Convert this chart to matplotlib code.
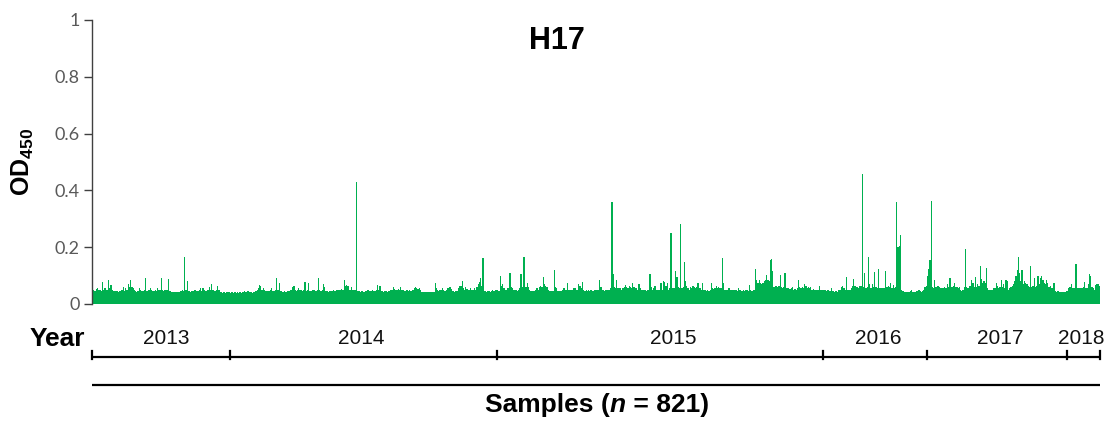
import matplotlib
matplotlib.use("Agg")
import matplotlib.pyplot as plt
import numpy as np
from matplotlib.transforms import blended_transform_factory
from matplotlib.offsetbox import TextArea, HPacker, AnnotationBbox

# ---------------- data ----------------
od450 = [
    0.050, 0.048, 0.045, 0.052, 0.055, 0.048, 0.050, 0.045, 0.077, 0.050, 0.055, 0.048, 0.050, 0.085, 0.055, 0.067, 0.048, 0.045, 0.045, 0.047,
    0.045, 0.044, 0.046, 0.045, 0.048, 0.059, 0.046, 0.055, 0.050, 0.070, 0.060, 0.085, 0.060, 0.055, 0.050, 0.046, 0.044, 0.045, 0.055, 0.048,
    0.045, 0.046, 0.048, 0.090, 0.046, 0.045, 0.048, 0.058, 0.050, 0.046, 0.045, 0.048, 0.046, 0.055, 0.048, 0.050, 0.090, 0.048, 0.046, 0.050,
    0.048, 0.050, 0.088, 0.045, 0.044, 0.043, 0.043, 0.044, 0.043, 0.043, 0.044, 0.043, 0.045, 0.050, 0.045, 0.167, 0.048, 0.080, 0.046, 0.045,
    0.044, 0.045, 0.046, 0.050, 0.048, 0.046, 0.045, 0.048, 0.055, 0.046, 0.055, 0.048, 0.045, 0.046, 0.048, 0.060, 0.048, 0.070, 0.050, 0.046,
    0.045, 0.048, 0.065, 0.048, 0.042, 0.041, 0.040, 0.041, 0.040, 0.041, 0.042, 0.041, 0.040, 0.041, 0.041, 0.040, 0.041, 0.040, 0.041, 0.040,
    0.041, 0.040, 0.041, 0.042, 0.045, 0.044, 0.046, 0.045, 0.043, 0.041, 0.040, 0.041, 0.042, 0.045, 0.050, 0.055, 0.067, 0.065, 0.050, 0.055,
    0.048, 0.046, 0.045, 0.047, 0.046, 0.048, 0.055, 0.046, 0.045, 0.048, 0.090, 0.048, 0.075, 0.046, 0.045, 0.044, 0.045, 0.043, 0.044, 0.046,
    0.045, 0.048, 0.050, 0.060, 0.062, 0.050, 0.046, 0.048, 0.057, 0.050, 0.048, 0.046, 0.048, 0.078, 0.046, 0.048, 0.075, 0.046, 0.045, 0.048,
    0.050, 0.048, 0.046, 0.050, 0.093, 0.050, 0.046, 0.050, 0.072, 0.060, 0.046, 0.045, 0.044, 0.045, 0.046, 0.045, 0.050, 0.046, 0.045, 0.048,
    0.050, 0.048, 0.050, 0.052, 0.050, 0.085, 0.065, 0.066, 0.063, 0.050, 0.048, 0.060, 0.050, 0.048, 0.048, 0.428, 0.046, 0.045, 0.044, 0.045,
    0.045, 0.044, 0.046, 0.045, 0.048, 0.050, 0.046, 0.045, 0.050, 0.046, 0.045, 0.048, 0.068, 0.050, 0.065, 0.046, 0.045, 0.044, 0.046, 0.045,
    0.044, 0.046, 0.045, 0.048, 0.050, 0.060, 0.052, 0.050, 0.048, 0.052, 0.050, 0.060, 0.050, 0.048, 0.046, 0.045, 0.048, 0.046, 0.050, 0.046,
    0.045, 0.048, 0.055, 0.060, 0.055, 0.052, 0.055, 0.048, 0.044, 0.043, 0.043, 0.042, 0.043, 0.043, 0.042, 0.043, 0.043, 0.042, 0.043, 0.075,
    0.055, 0.048, 0.046, 0.050, 0.048, 0.055, 0.048, 0.046, 0.050, 0.055, 0.058, 0.060, 0.052, 0.046, 0.045, 0.044, 0.045, 0.046, 0.055, 0.063,
    0.065, 0.080, 0.055, 0.048, 0.060, 0.052, 0.050, 0.048, 0.055, 0.050, 0.048, 0.055, 0.050, 0.060, 0.070, 0.078, 0.090, 0.065, 0.163, 0.046,
    0.045, 0.044, 0.045, 0.046, 0.044, 0.045, 0.050, 0.046, 0.050, 0.048, 0.050, 0.046, 0.097, 0.065, 0.070, 0.055, 0.050, 0.048, 0.055, 0.055,
    0.110, 0.060, 0.055, 0.050, 0.048, 0.050, 0.046, 0.048, 0.055, 0.104, 0.060, 0.165, 0.165, 0.060, 0.075, 0.060, 0.050, 0.046, 0.045, 0.046,
    0.045, 0.048, 0.055, 0.050, 0.060, 0.062, 0.060, 0.094, 0.070, 0.065, 0.060, 0.050, 0.046, 0.045, 0.046, 0.045, 0.120, 0.060, 0.055, 0.046,
    0.045, 0.046, 0.045, 0.048, 0.055, 0.048, 0.050, 0.075, 0.050, 0.048, 0.050, 0.048, 0.058, 0.055, 0.048, 0.050, 0.070, 0.065, 0.055, 0.078,
    0.048, 0.046, 0.048, 0.047, 0.048, 0.046, 0.048, 0.046, 0.045, 0.050, 0.050, 0.048, 0.050, 0.085, 0.060, 0.048, 0.050, 0.046, 0.048, 0.050,
    0.048, 0.050, 0.055, 0.360, 0.105, 0.060, 0.058, 0.085, 0.055, 0.058, 0.055, 0.050, 0.055, 0.060, 0.068, 0.060, 0.058, 0.062, 0.060, 0.058,
    0.075, 0.060, 0.055, 0.058, 0.050, 0.072, 0.055, 0.050, 0.048, 0.050, 0.048, 0.046, 0.048, 0.050, 0.104, 0.060, 0.050, 0.055, 0.065, 0.050,
    0.048, 0.050, 0.048, 0.075, 0.050, 0.080, 0.078, 0.065, 0.075, 0.050, 0.055, 0.251, 0.055, 0.058, 0.055, 0.115, 0.095, 0.060, 0.055, 0.280,
    0.058, 0.060, 0.147, 0.080, 0.065, 0.055, 0.050, 0.060, 0.058, 0.062, 0.060, 0.058, 0.060, 0.075, 0.058, 0.055, 0.050, 0.075, 0.050, 0.048,
    0.046, 0.048, 0.046, 0.050, 0.073, 0.055, 0.052, 0.055, 0.065, 0.055, 0.060, 0.058, 0.055, 0.163, 0.075, 0.050, 0.048, 0.050, 0.055, 0.058,
    0.050, 0.048, 0.050, 0.048, 0.050, 0.046, 0.058, 0.050, 0.048, 0.046, 0.048, 0.047, 0.048, 0.050, 0.046, 0.066, 0.048, 0.045, 0.048, 0.050,
    0.124, 0.085, 0.075, 0.085, 0.075, 0.070, 0.075, 0.080, 0.085, 0.102, 0.085, 0.080, 0.155, 0.160, 0.115, 0.060, 0.065, 0.065, 0.060, 0.065,
    0.103, 0.060, 0.055, 0.060, 0.110, 0.055, 0.058, 0.055, 0.052, 0.055, 0.060, 0.050, 0.052, 0.050, 0.055, 0.085, 0.060, 0.058, 0.060, 0.055,
    0.072, 0.065, 0.058, 0.060, 0.055, 0.060, 0.050, 0.052, 0.050, 0.048, 0.050, 0.048, 0.065, 0.050, 0.048, 0.050, 0.048, 0.050, 0.046, 0.048,
    0.045, 0.046, 0.055, 0.045, 0.044, 0.046, 0.045, 0.044, 0.048, 0.050, 0.060, 0.065, 0.055, 0.050, 0.095, 0.050, 0.048, 0.050, 0.055, 0.065,
    0.088, 0.065, 0.060, 0.060, 0.058, 0.062, 0.065, 0.457, 0.060, 0.110, 0.055, 0.060, 0.165, 0.070, 0.058, 0.070, 0.060, 0.112, 0.060, 0.058,
    0.125, 0.058, 0.055, 0.055, 0.058, 0.055, 0.115, 0.060, 0.065, 0.060, 0.075, 0.055, 0.068, 0.055, 0.060, 0.360, 0.200, 0.205, 0.243, 0.050,
    0.045, 0.044, 0.043, 0.044, 0.043, 0.044, 0.045, 0.050, 0.044, 0.043, 0.044, 0.045, 0.046, 0.048, 0.045, 0.044, 0.046, 0.048, 0.060, 0.065,
    0.100, 0.125, 0.155, 0.364, 0.060, 0.055, 0.085, 0.060, 0.065, 0.065, 0.060, 0.055, 0.058, 0.055, 0.060, 0.055, 0.070, 0.060, 0.090, 0.090,
    0.060, 0.065, 0.075, 0.060, 0.060, 0.058, 0.060, 0.050, 0.045, 0.048, 0.060, 0.194, 0.060, 0.055, 0.065, 0.065, 0.085, 0.075, 0.060, 0.095,
    0.060, 0.070, 0.065, 0.135, 0.088, 0.075, 0.080, 0.075, 0.128, 0.055, 0.050, 0.050, 0.048, 0.050, 0.058, 0.055, 0.075, 0.065, 0.055, 0.060,
    0.085, 0.060, 0.070, 0.058, 0.083, 0.080, 0.050, 0.055, 0.060, 0.065, 0.070, 0.080, 0.100, 0.120, 0.165, 0.110, 0.080, 0.120, 0.070, 0.080,
    0.075, 0.070, 0.065, 0.060, 0.135, 0.060, 0.065, 0.090, 0.060, 0.065, 0.097, 0.070, 0.090, 0.097, 0.085, 0.075, 0.070, 0.085, 0.075, 0.060,
    0.065, 0.058, 0.055, 0.075, 0.045, 0.044, 0.045, 0.046, 0.044, 0.043, 0.042, 0.043, 0.042, 0.045, 0.046, 0.055, 0.060, 0.070, 0.058, 0.055,
    0.058, 0.140, 0.055, 0.058, 0.055, 0.058, 0.055, 0.060, 0.078, 0.055, 0.058, 0.070, 0.105, 0.100, 0.060, 0.055, 0.050, 0.068, 0.070, 0.070,
    0.065,
]
years = ["2013", "2014", "2015", "2016", "2017", "2018"]
year_counts = [112, 218, 265, 85, 114, 27]
y_ticks = [0, 0.2, 0.4, 0.6, 0.8, 1.0]
y_tick_labels = ["0", "0.2", "0.4", "0.6", "0.8", "1"]
title = "H17"

# ---------------- style ----------------
plt.rcParams["font.family"] = ["Liberation Sans", "DejaVu Sans"]
plt.rcParams["mathtext.fontset"] = "custom"
plt.rcParams["mathtext.rm"] = "Liberation Sans"
plt.rcParams["mathtext.bf"] = "Liberation Sans:bold"
plt.rcParams["mathtext.it"] = "Liberation Sans:italic"

W, H = 1115, 422
fig = plt.figure(figsize=(W / 100, H / 100), dpi=100)
ax_l, ax_r, ax_t, ax_b = 92, 1100, 20, 304
ax = fig.add_axes([ax_l / W, (H - ax_b) / H, (ax_r - ax_l) / W, (ax_b - ax_t) / H])

n = len(od450)
x = np.arange(n)
ax.bar(x, od450, width=1.0, color="#00B050", linewidth=0, antialiased=True)
ax.set_xlim(-0.5, n - 0.5)
ax.set_ylim(0, 1)
ax.set_yticks(y_ticks)
ax.set_yticklabels(y_tick_labels, fontfamily=["Lato", "DejaVu Sans"], fontsize=13, color="#595959")
ax.tick_params(axis="y", length=6, width=1, color="#404040", pad=3)
ax.set_xticks([])
for s in ["top", "right", "bottom"]:
    ax.spines[s].set_visible(False)
ax.spines["left"].set_color("#404040")
ax.spines["left"].set_linewidth(1)

# title
fig.text(557 / W, (H - 41) / H, title, ha="center", va="center", fontsize=22, fontweight="bold")

# y label
fig.text(23 / W, (H - 162) / H, r"$\mathbf{OD}_{\mathbf{450}}$", rotation=90,
         ha="center", va="center", fontsize=18)

# year brackets
tr = blended_transform_factory(ax.transData, fig.transFigure)
bounds = np.concatenate([[0], np.cumsum(year_counts)]) - 0.5
y_line = (H - 356.5) / H
y_tick_top = (H - 351) / H
y_tick_bot = (H - 359) / H
ax.plot([bounds[0], bounds[-1]], [y_line, y_line], color="black", lw=1.6,
        transform=tr, clip_on=False, solid_capstyle="butt")
for b in bounds:
    ax.plot([b, b], [y_tick_bot, y_tick_top], color="black", lw=1.6,
            transform=tr, clip_on=False)
px2d = n / (ax_r - ax_l)
label_dx = [5, -2, 13, 4, 3, -2]
for i, yr in enumerate(years):
    mid = (bounds[i] + bounds[i + 1]) / 2 + label_dx[i] * px2d
    ax.text(mid, (H - 338) / H, yr, transform=tr, ha="center", va="center",
            fontsize=15, color="#111111")
fig.text(57 / W, (H - 339) / H, "Year", ha="center", va="center", fontsize=19, fontweight="bold")

# samples line
y_line2 = (H - 385) / H
ax.plot([bounds[0], bounds[-1]], [y_line2, y_line2], color="black", lw=1.6,
        transform=tr, clip_on=False, solid_capstyle="butt")
bold = dict(fontsize=19, fontweight="bold", color="black")
boldit = dict(fontsize=19, fontweight="bold", fontstyle="italic", color="black")
pack = HPacker(children=[TextArea("Samples (", textprops=bold),
                         TextArea("n", textprops=boldit),
                         TextArea(" = 821)", textprops=bold)],
               align="baseline", pad=0, sep=0)
ab = AnnotationBbox(pack, (597 / W, (H - 405) / H), xycoords="figure fraction",
                    frameon=False, box_alignment=(0.5, 0.5), pad=0)
fig.add_artist(ab)

fig.savefig("out.png", dpi=100)
